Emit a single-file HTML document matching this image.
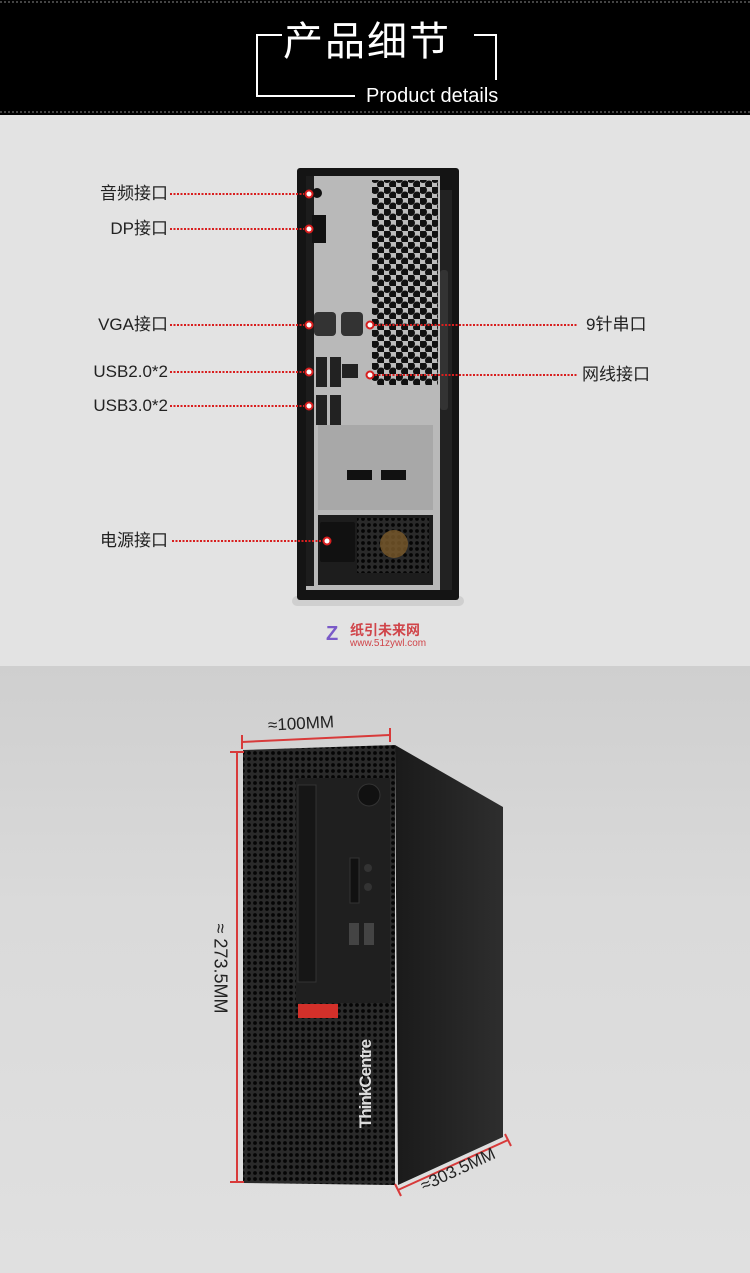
<!DOCTYPE html>
<html><head><meta charset="utf-8"><style>
body{margin:0;width:750px;height:1273px;overflow:hidden;font-family:"Liberation Sans","Noto Sans CJK SC",sans-serif;}
.t{position:absolute;font-size:17px;color:#222;line-height:20px;white-space:nowrap}
.r{text-align:right;width:160px;left:8px}
</style></head><body>
<div style="position:absolute;left:0;top:0;width:750px;height:115px;background:#000"></div>
<div style="position:absolute;left:0;top:115px;width:750px;height:551px;background:#e3e3e3"></div>
<div style="position:absolute;left:0;top:666px;width:750px;height:607px;background:linear-gradient(#cfcfcf,#dadada 40%,#e0e0e0)"></div>
<svg style="position:absolute;left:0;top:0" width="750" height="1273">
<defs>
<pattern id="hx" width="6" height="6" patternUnits="userSpaceOnUse"><rect width="6" height="6" fill="#2a2a2a"/><circle cx="3" cy="3" r="1.9" fill="#050505"/></pattern>
<pattern id="hx2" width="12" height="11" patternUnits="userSpaceOnUse"><rect width="12" height="11" fill="#bcbcbc"/><circle cx="3" cy="3" r="4" fill="#111"/><circle cx="9" cy="8.5" r="4" fill="#111"/></pattern>
<linearGradient id="sd" x1="0" y1="0" x2="1" y2="0"><stop offset="0" stop-color="#1a1a1a"/><stop offset="1" stop-color="#2e2e2e"/></linearGradient>
</defs>
<line x1="0" y1="2" x2="750" y2="2" stroke="#888" stroke-dasharray="2 2"/>
<line x1="0" y1="112" x2="750" y2="112" stroke="#888" stroke-dasharray="2 2"/>
<polyline points="282,35 257,35 257,96 355,96" fill="none" stroke="#fff" stroke-width="2"/>
<polyline points="474,35 496,35 496,80" fill="none" stroke="#fff" stroke-width="2"/>
<!-- rear case -->
<rect x="292" y="596" width="172" height="10" rx="5" fill="#cfcfcf"/>
<rect x="297" y="168" width="162" height="432" rx="3" fill="#141414"/>
<path d="M306,176 L440,176 L440,590 L306,590 Z" fill="#b9b9b9"/>
<rect x="372" y="180" width="66" height="205" fill="url(#hx2)"/>
<rect x="440" y="190" width="12" height="400" fill="#222"/>
<rect x="440" y="270" width="8" height="140" fill="#333" rx="3"/>
<rect x="306" y="176" width="8" height="410" fill="#1c1c1c"/>
<rect x="312" y="215" width="14" height="28" fill="#111"/>
<circle cx="317" cy="193" r="5" fill="#111"/>
<rect x="314" y="312" width="22" height="24" rx="4" fill="#333"/>
<rect x="341" y="312" width="22" height="24" rx="4" fill="#333"/>
<rect x="316" y="357" width="11" height="30" fill="#222"/><rect x="330" y="357" width="11" height="30" fill="#222"/>
<rect x="316" y="395" width="11" height="30" fill="#222"/><rect x="330" y="395" width="11" height="30" fill="#222"/>
<rect x="342" y="364" width="16" height="14" fill="#222"/>
<rect x="318" y="425" width="115" height="85" fill="#a8a8a8"/>
<rect x="347" y="470" width="25" height="10" fill="#111"/><rect x="381" y="470" width="25" height="10" fill="#111"/>
<rect x="318" y="515" width="115" height="70" fill="#1d1d1d"/>
<rect x="320" y="522" width="35" height="40" fill="#111" rx="2"/>
<rect x="357" y="518" width="72" height="55" fill="url(#hx)"/>
<circle cx="394" cy="544" r="14" fill="#7a5a2a" opacity=".8"/>
<g stroke="#d81e1e" stroke-width="2" stroke-dasharray="2 1.5" fill="none">
<line x1="170" y1="194" x2="304" y2="194"/><line x1="170" y1="229" x2="304" y2="229"/>
<line x1="170" y1="325" x2="304" y2="325"/><line x1="170" y1="372" x2="304" y2="372"/>
<line x1="170" y1="406" x2="304" y2="406"/><line x1="172" y1="541" x2="324" y2="541"/>
<line x1="375" y1="325" x2="578" y2="325"/><line x1="375" y1="375" x2="578" y2="375"/>
</g>
<g fill="#fff" stroke="#d81e1e" stroke-width="2">
<circle cx="309" cy="194" r="3.5"/><circle cx="309" cy="229" r="3.5"/><circle cx="309" cy="325" r="3.5"/>
<circle cx="309" cy="372" r="3.5"/><circle cx="309" cy="406" r="3.5"/><circle cx="327" cy="541" r="3.5"/>
<circle cx="370" cy="325" r="3.5"/><circle cx="370" cy="375" r="3.5"/>
</g>
<!-- front view -->
<polygon points="395,745 503,807 503,1137 398,1185" fill="url(#sd)"/>
<polygon points="243,750 395,745 395,1185 243,1183" fill="url(#hx)"/>
<rect x="296" y="778" width="94" height="225" fill="#1f1f1f"/>
<rect x="298" y="785" width="18" height="197" fill="#161616" stroke="#333"/>
<circle cx="369" cy="795" r="11" fill="#111" stroke="#333"/>
<rect x="350" y="858" width="9" height="45" fill="#111" stroke="#333"/>
<circle cx="368" cy="868" r="4" fill="#333"/><circle cx="368" cy="887" r="4" fill="#333"/>
<rect x="349" y="923" width="10" height="22" fill="#444"/><rect x="364" y="923" width="10" height="22" fill="#444"/>
<rect x="298" y="1004" width="40" height="14" fill="#d3302a"/>
<g stroke="#d83a3a" stroke-width="2">
<line x1="242" y1="742" x2="390" y2="735"/><line x1="242" y1="735" x2="242" y2="749"/><line x1="390" y1="728" x2="390" y2="742"/>
<line x1="237" y1="752" x2="237" y2="1182"/><line x1="230" y1="752" x2="244" y2="752"/><line x1="230" y1="1182" x2="244" y2="1182"/>
<line x1="398" y1="1190" x2="508" y2="1140"/><line x1="395" y1="1184" x2="401" y2="1196"/><line x1="505" y1="1134" x2="511" y2="1146"/>
</g>
</svg>
<div style="position:absolute;left:283px;top:14px;font-size:40px;color:#fff;letter-spacing:2px;font-family:'Noto Sans CJK SC',sans-serif;line-height:48px">产品细节</div>
<div style="position:absolute;left:366px;top:84px;font-size:20px;color:#fff;line-height:24px">Product details</div>
<div class="t r" style="top:184px">音频接口</div>
<div class="t r" style="top:219px">DP接口</div>
<div class="t r" style="top:315px">VGA接口</div>
<div class="t r" style="top:362px">USB2.0*2</div>
<div class="t r" style="top:396px">USB3.0*2</div>
<div class="t r" style="top:531px">电源接口</div>
<div class="t" style="left:586px;top:315px">9针串口</div>
<div class="t" style="left:582px;top:365px">网线接口</div>
<div style="position:absolute;left:326px;top:624px;font-size:20px;color:#7a5ac8;font-weight:bold;line-height:20px">Z</div>
<div style="position:absolute;left:350px;top:622px;font-size:14px;color:#d0454a;line-height:16px;font-weight:bold">纸引未来网</div>
<div style="position:absolute;left:350px;top:638px;font-size:10px;color:#d0454a;line-height:12px">www.51zywl.com</div>
<div style="position:absolute;left:268px;top:714px;font-size:17px;color:#222;transform:rotate(-3deg)">≈100MM</div>
<div style="position:absolute;left:175px;top:958px;font-size:18px;color:#222;transform:rotate(90deg);white-space:nowrap">≈ 273.5MM</div>
<div style="position:absolute;left:418px;top:1160px;font-size:17px;line-height:20px;color:#222;transform:rotate(-25deg);white-space:nowrap">≈303.5MM</div>
<div style="position:absolute;left:322px;top:1074px;font-size:17px;color:#ddd;font-weight:bold;transform:rotate(-90deg);white-space:nowrap;letter-spacing:-1px">ThinkCentre</div>
</body></html>
